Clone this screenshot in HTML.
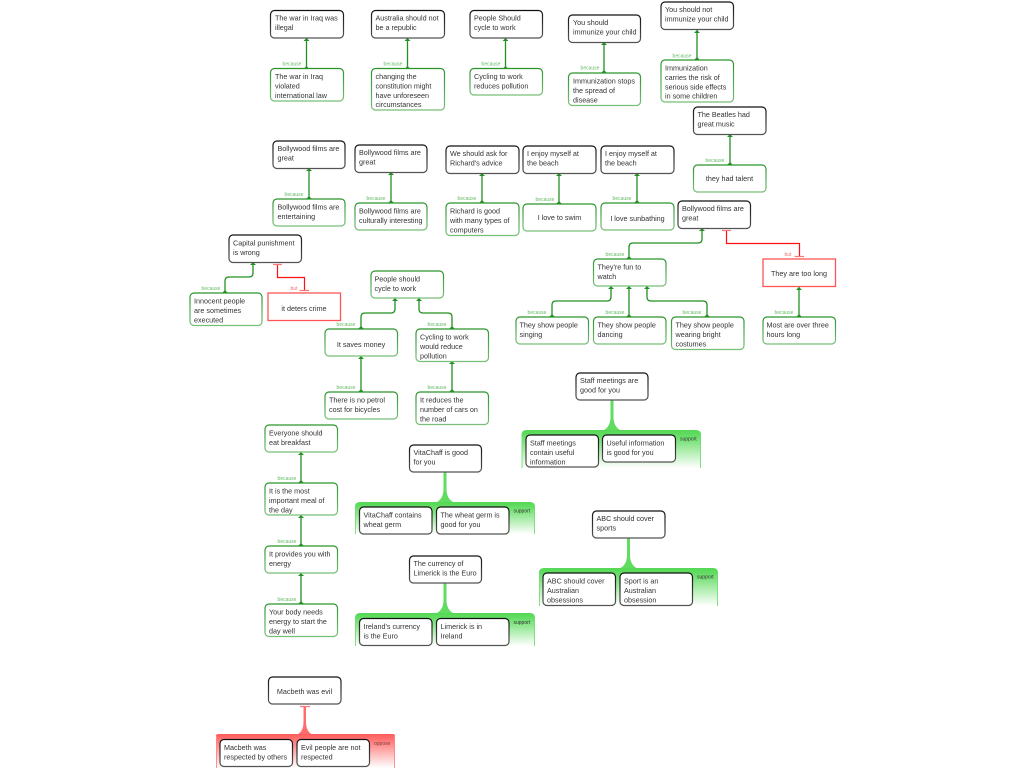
<!DOCTYPE html>
<html><head><meta charset="utf-8"><style>
html,body{margin:0;padding:0;background:#fff}
svg{display:block;filter:blur(.28px)}
text{font-family:"Liberation Sans",sans-serif;font-size:7.2px;fill:#333}
text.b{font-size:5px;fill:#66bb66;text-anchor:middle}
text.r{font-size:5px;fill:#f07070;text-anchor:middle}
text.l{font-size:5px;fill:#333}
text.c{text-anchor:middle}
rect.k{fill:#fff;stroke:url(#k);stroke-width:1.2}
rect.g{fill:#fff;stroke:url(#g);stroke-width:1.2}
rect.d{fill:#fff;stroke:#f55;stroke-width:1.3}
path.n{fill:none;stroke:#229022;stroke-width:1.3}
path.a{fill:#229022}
path.x{fill:none;stroke:#f11;stroke-width:1.2}
path.t{fill:none;stroke:#f77;stroke-width:1.3}
path.s{fill:none;stroke:#77dd77;stroke-width:.9}
</style></head><body>
<svg width="1024" height="768" viewBox="0 0 1024 768" xmlns="http://www.w3.org/2000/svg">
<defs>
<linearGradient id="k" x1="0" y1="0" x2="0" y2="1"><stop offset="0" stop-color="#111"/><stop offset="1" stop-color="#555"/></linearGradient>
<linearGradient id="g" x1="0" y1="0" x2="0" y2="1"><stop offset="0" stop-color="#2a942a"/><stop offset="1" stop-color="#78c078"/></linearGradient>
<linearGradient id="sg" x1="0" y1="0" x2="0" y2="1"><stop offset="0" stop-color="#55d855"/><stop offset="0.12" stop-color="#60dc60"/><stop offset="1" stop-color="#fff"/></linearGradient>
<linearGradient id="sr" x1="0" y1="0" x2="0" y2="1"><stop offset="0" stop-color="#ff5c5c"/><stop offset="0.12" stop-color="#ff6c6c"/><stop offset="1" stop-color="#fff"/></linearGradient>
</defs>

<!-- connectors -->
<path class="n" d="M306.500 38V69M407.500 38V69M505.500 38V69M604 42V73M697 30V60M730 134V165M309 168V199M391 172V203M482 173V203M559 173V204M637 173V203"/>
<path class="n" d="M702 228V239Q702 243 698 243H633Q629 243 629 247V259"/>
<path class="n" d="M611 286V297Q611 301 607 301H556Q552 301 552 305V317M629 286V317M647 286V297Q647 301 651 301H703Q707 301 707 305V317M799 287V317"/>
<path class="n" d="M253 262V273Q253 277 249 277H229Q225 277 225 281V293"/>
<path class="n" d="M395 298V309Q395 313 391 313H365Q361 313 361 317V329M419 298V309Q419 313 423 313H448Q452 313 452 317V329M361 356V392M452 361V392"/>
<path class="n" d="M301 452V483M301 515V546M301 573V604"/>
<path class="a" d="M303.500 41L306.500 38L309.500 41ZM303.500 69L306.500 66L309.500 69ZM404.500 41L407.500 38L410.500 41ZM404.500 69L407.500 66L410.500 69ZM502.500 41L505.500 38L508.500 41ZM502.500 69L505.500 66L508.500 69ZM601 45L604 42L607 45ZM601 73L604 70L607 73ZM694 33L697 30L700 33ZM694 60L697 57L700 60ZM727 137L730 134L733 137ZM727 165L730 162L733 165ZM306 171L309 168L312 171ZM306 199L309 196L312 199ZM388 175L391 172L394 175ZM388 203L391 200L394 203ZM479 176L482 173L485 176ZM479 203L482 200L485 203ZM556 176L559 173L562 176ZM556 204L559 201L562 204ZM634 176L637 173L640 176ZM634 203L637 200L640 203Z"/>
<path class="a" d="M699 231L702 228L705 231ZM626 259L629 256L632 259ZM608 289L611 286L614 289ZM626 289L629 286L632 289ZM644 289L647 286L650 289ZM549 317L552 314L555 317ZM626 317L629 314L632 317ZM704 317L707 314L710 317ZM796 290L799 287L802 290ZM796 317L799 314L802 317ZM250 265L253 262L256 265ZM222 293L225 290L228 293ZM392 301L395 298L398 301ZM416 301L419 298L422 301ZM358 329L361 326L364 329ZM449 329L452 326L455 329ZM358 359L361 356L364 359ZM358 392L361 389L364 392ZM449 364L452 361L455 364ZM449 392L452 389L455 392ZM298 455L301 452L304 455ZM298 483L301 480L304 483ZM298 518L301 515L304 518ZM298 546L301 543L304 546ZM298 576L301 573L304 576ZM298 604L301 601L304 604Z"/>
<path class="x" d="M726.500 231V243.500H799.500V256M277.500 264V277.500H304.500V290"/>
<path class="t" d="M722 230.500H731M794.500 256.500H804M273 264.500H282M299.500 290.500H309M300 706.500H310"/>

<!-- connector labels -->
<text class="b" x="292" y="65.500">because</text><text class="b" x="393" y="65.500">because</text><text class="b" x="491" y="65.500">because</text><text class="b" x="590" y="69.500">because</text><text class="b" x="682" y="57.500">because</text><text class="b" x="715" y="162">because</text><text class="b" x="294" y="196">because</text><text class="b" x="376" y="200">because</text><text class="b" x="467" y="200">because</text><text class="b" x="545" y="201">because</text><text class="b" x="622" y="200">because</text><text class="b" x="615" y="256">because</text><text class="r" x="788" y="256">but</text><text class="b" x="537" y="314">because</text><text class="b" x="615" y="314">because</text><text class="b" x="692" y="314">because</text><text class="b" x="784" y="314">because</text><text class="b" x="211" y="290">because</text><text class="r" x="294" y="290">but</text><text class="b" x="346" y="326">because</text><text class="b" x="437" y="326">because</text><text class="b" x="346" y="389">because</text><text class="b" x="437" y="389">because</text><text class="b" x="287" y="480">because</text><text class="b" x="287" y="543">because</text><text class="b" x="287" y="601">because</text>

<!-- row 1 -->
<rect class="k" x="270.500" y="10.500" width="73" height="27.500" rx="4"/><text x="275" y="20.500">The war in Iraq was</text><text x="275" y="30">illegal</text>
<rect class="g" x="270.500" y="68.500" width="73" height="32.500" rx="4"/><text x="275" y="79">The war in Iraq</text><text x="275" y="88.400">violated</text><text x="275" y="97.800">international law</text>
<rect class="k" x="371.500" y="10.500" width="73" height="27.500" rx="4"/><text x="375.500" y="20.500">Australia should not</text><text x="375.500" y="30">be a republic</text>
<rect class="g" x="371.500" y="68.500" width="73" height="41.500" rx="4"/><text x="375.500" y="79">changing the</text><text x="375.500" y="88.400">constitution might</text><text x="375.500" y="97.800">have unforeseen</text><text x="375.500" y="107.200">circumstances</text>
<rect class="k" x="470" y="10.500" width="72.500" height="27.500" rx="4"/><text x="474" y="20.500">People Should</text><text x="474" y="30">cycle to work</text>
<rect class="g" x="470" y="68.500" width="72.500" height="26.500" rx="4"/><text x="474" y="79">Cycling to work</text><text x="474" y="88.400">reduces pollution</text>
<rect class="k" x="568.500" y="15" width="72" height="27.500" rx="4"/><text x="573" y="25">You should</text><text x="573" y="34.500">immunize your child</text>
<rect class="g" x="568.500" y="73" width="72" height="32.500" rx="4"/><text x="573" y="83.500">Immunization stops</text><text x="573" y="92.900">the spread of</text><text x="573" y="102.300">disease</text>
<rect class="k" x="661" y="2" width="72.500" height="27.500" rx="4"/><text x="665" y="12">You should not</text><text x="665" y="21.500">immunize your child</text>
<rect class="g" x="661" y="60" width="72.500" height="42" rx="4"/><text x="665" y="70.500">Immunization</text><text x="665" y="79.900">carries the risk of</text><text x="665" y="89.300">serious side effects</text><text x="665" y="98.700">in some children</text>
<rect class="k" x="693.500" y="107" width="72.500" height="27.500" rx="4"/><text x="697.500" y="117">The Beatles had</text><text x="697.500" y="126.500">great music</text>
<rect class="g" x="693.500" y="165" width="72.500" height="27" rx="4"/><text class="c" x="729.500" y="181">they had talent</text>

<!-- row 2 -->
<rect class="k" x="273" y="141" width="72" height="27.500" rx="4"/><text x="277.500" y="151">Bollywood films are</text><text x="277.500" y="160.500">great</text>
<rect class="g" x="273" y="199" width="72" height="27" rx="4"/><text x="277.500" y="209.500">Bollywood films are</text><text x="277.500" y="219">entertaining</text>
<rect class="k" x="355" y="145" width="72" height="27.500" rx="4"/><text x="359" y="155">Bollywood films are</text><text x="359" y="164.500">great</text>
<rect class="g" x="355" y="203" width="72" height="27" rx="4"/><text x="359" y="213.500">Bollywood films are</text><text x="359" y="223">culturally interesting</text>
<rect class="k" x="446" y="146" width="73" height="27.500" rx="4"/><text x="450" y="156">We should ask for</text><text x="450" y="165.500">Richard's advice</text>
<rect class="g" x="446" y="203" width="73" height="32.500" rx="4"/><text x="450" y="213.500">Richard is good</text><text x="450" y="222.900">with many types of</text><text x="450" y="232.300">computers</text>
<rect class="k" x="523" y="146" width="73" height="27.500" rx="4"/><text x="527" y="156">I enjoy myself at</text><text x="527" y="165.500">the beach</text>
<rect class="g" x="523" y="204" width="73" height="27" rx="4"/><text class="c" x="559.500" y="220">I love to swim</text>
<rect class="k" x="601" y="146" width="73" height="27.500" rx="4"/><text x="605" y="156">I enjoy myself at</text><text x="605" y="165.500">the beach</text>
<rect class="g" x="601" y="203" width="73" height="27" rx="4"/><text class="c" x="637.500" y="221">I love sunbathing</text>

<rect class="k" x="678" y="201" width="72.500" height="27.500" rx="4"/><text x="682" y="211">Bollywood films are</text><text x="682" y="220.500">great</text>
<rect class="g" x="593.500" y="259" width="72.500" height="27" rx="4"/><text x="597.500" y="269.500">They're fun to</text><text x="597.500" y="279">watch</text>
<rect class="d" x="763" y="259" width="72.500" height="27.500" /><text class="c" x="799" y="276">They are too long</text>
<rect class="g" x="516" y="317" width="72.500" height="27" rx="4"/><text x="519.500" y="327.500">They show people</text><text x="519.500" y="337">singing</text>
<rect class="g" x="593.500" y="317" width="72.500" height="27" rx="4"/><text x="597.500" y="327.500">They show people</text><text x="597.500" y="337">dancing</text>
<rect class="g" x="671.500" y="317" width="72.500" height="32.500" rx="4"/><text x="675.500" y="327.500">They show people</text><text x="675.500" y="336.900">wearing bright</text><text x="675.500" y="346.300">costumes</text>
<rect class="g" x="763" y="317" width="72.500" height="27" rx="4"/><text x="766.500" y="327.500">Most are over three</text><text x="766.500" y="337">hours long</text>

<rect class="k" x="229" y="235" width="72.500" height="27.500" rx="4"/><text x="233" y="245.500">Capital punishment</text><text x="233" y="255">is wrong</text>
<rect class="g" x="190" y="293" width="72" height="32.500" rx="4"/><text x="194" y="303.500">Innocent people</text><text x="194" y="312.900">are sometimes</text><text x="194" y="322.300">executed</text>
<rect class="d" x="268" y="293" width="72.500" height="27.500"/><text class="c" x="304" y="311">it deters crime</text>

<rect class="g" x="371" y="271" width="72.500" height="27" rx="4"/><text x="374.500" y="281.500">People should</text><text x="374.500" y="291">cycle to work</text>
<rect class="g" x="325" y="329" width="72.500" height="27" rx="4"/><text class="c" x="361" y="347">It saves money</text>
<rect class="g" x="416" y="329" width="72.500" height="32.500" rx="4"/><text x="420" y="339.500">Cycling to work</text><text x="420" y="348.900">would reduce</text><text x="420" y="358.300">pollution</text>
<rect class="g" x="325" y="392" width="72.500" height="27" rx="4"/><text x="329" y="402.500">There is no petrol</text><text x="329" y="412">cost for bicycles</text>
<rect class="g" x="416" y="392" width="72.500" height="32.500" rx="4"/><text x="420" y="402.500">It reduces the</text><text x="420" y="411.900">number of cars on</text><text x="420" y="421.300">the road</text>

<rect class="g" x="265" y="425" width="72.500" height="27" rx="4"/><text x="269" y="435.500">Everyone should</text><text x="269" y="445">eat breakfast</text>
<rect class="g" x="265" y="483" width="72.500" height="32" rx="4"/><text x="269" y="493.500">It is the most</text><text x="269" y="502.900">important meal of</text><text x="269" y="512.300">the day</text>
<rect class="g" x="265" y="546" width="72.500" height="27" rx="4"/><text x="269" y="556.500">It provides you with</text><text x="269" y="566">energy</text>
<rect class="g" x="265" y="604" width="72.500" height="32.500" rx="4"/><text x="269" y="614.500">Your body needs</text><text x="269" y="623.900">energy to start the</text><text x="269" y="633.300">day well</text>

<!-- support groups -->
<path d="M610.500 400H613.500V417Q613.500 427 621 430.500H603Q610.500 427 610.500 417Z" fill="#60dc60"/>
<path d="M521.500 468V435Q521.500 430 526.500 430H696Q701 430 701 435V468Z" fill="url(#sg)"/>
<path class="s" d="M522 436V468M700.500 436V468"/>
<rect class="k" x="576" y="373" width="72" height="27" rx="4"/><text x="580" y="383">Staff meetings are</text><text x="580" y="392.500">good for you</text>
<rect class="k" x="526" y="435" width="72.500" height="32" rx="4"/><text x="530" y="445.500">Staff meetings</text><text x="530" y="454.900">contain useful</text><text x="530" y="464.300">information</text>
<rect class="k" x="602.500" y="435" width="73" height="27" rx="4"/><text x="606.500" y="445.500">Useful information</text><text x="606.500" y="455">is good for you</text>
<text class="l" x="680" y="440.500">support</text>

<path d="M443.500 472H446.500V489Q446.500 499 454 502.500H436Q443.500 499 443.500 489Z" fill="#60dc60"/>
<path d="M355 534V507Q355 502 360 502H530Q535 502 535 507V534Z" fill="url(#sg)"/>
<path class="s" d="M355.500 508V534M534.500 508V534"/>
<rect class="k" x="409.500" y="445" width="72" height="27" rx="4"/><text x="413.500" y="455">VitaChaff is good</text><text x="413.500" y="464.500">for you</text>
<rect class="k" x="359.500" y="507" width="72.500" height="27" rx="4"/><text x="363.500" y="517.500">VitaChaff contains</text><text x="363.500" y="527">wheat germ</text>
<rect class="k" x="436.500" y="507" width="72.500" height="27" rx="4"/><text x="440.500" y="517.500">The wheat germ is</text><text x="440.500" y="527">good for you</text>
<text class="l" x="513.500" y="512.500">support</text>

<path d="M443.500 583H446.500V600Q446.500 610 454 613.500H436Q443.500 610 443.500 600Z" fill="#60dc60"/>
<path d="M355 646V618Q355 613 360 613H530Q535 613 535 618V646Z" fill="url(#sg)"/>
<path class="s" d="M355.500 619V646M534.500 619V646"/>
<rect class="k" x="409.500" y="556" width="72" height="27" rx="4"/><text x="413.500" y="566">The currency of</text><text x="413.500" y="575.500">Limerick is the Euro</text>
<rect class="k" x="359.500" y="618.500" width="72.500" height="27" rx="4"/><text x="363.500" y="629">Ireland's currency</text><text x="363.500" y="638.500">is the Euro</text>
<rect class="k" x="436.500" y="618.500" width="72.500" height="27" rx="4"/><text x="440.500" y="629">Limerick is in</text><text x="440.500" y="638.500">Ireland</text>
<text class="l" x="513.500" y="624">support</text>

<path d="M627 538H630V555Q630 565 637.500 568.500H619.500Q627 565 627 555Z" fill="#60dc60"/>
<path d="M539 606V573Q539 568 544 568H713Q718 568 718 573V606Z" fill="url(#sg)"/>
<path class="s" d="M539.500 574V606M717.500 574V606"/>
<rect class="k" x="592.500" y="511" width="72.500" height="27" rx="4"/><text x="596.500" y="521">ABC should cover</text><text x="596.500" y="530.500">sports</text>
<rect class="k" x="543" y="573" width="72.500" height="32.500" rx="4"/><text x="547" y="583.500">ABC should cover</text><text x="547" y="592.900">Australian</text><text x="547" y="602.300">obsessions</text>
<rect class="k" x="620" y="573" width="72.500" height="32.500" rx="4"/><text x="624" y="583.500">Sport is an</text><text x="624" y="592.900">Australian</text><text x="624" y="602.300">obsession</text>
<text class="l" x="697" y="578.500">support</text>

<path d="M303.500 707H306V722Q306 731 312 734.500H297.500Q303.500 731 303.500 722Z" fill="#ff6c6c"/>
<path d="M216 768V736Q216 734 218 734H393Q395 734 395 736V768Z" fill="url(#sr)"/>
<path class="s" style="stroke:#ff8888" d="M216.500 736V768M394.500 736V768"/>
<rect class="k" x="268.500" y="677" width="72.500" height="27" rx="4"/><text class="c" x="304.500" y="694">Macbeth was evil</text>
<rect class="k" x="220" y="739.500" width="72.500" height="27" rx="4"/><text x="224" y="750">Macbeth was</text><text x="224" y="759.500">respected by others</text>
<rect class="k" x="297" y="739.500" width="72.500" height="27" rx="4"/><text x="301" y="750">Evil people are not</text><text x="301" y="759.500">respected</text>
<text class="l" x="374" y="745" style="fill:#804040">oppose</text>
</svg>
</body></html>
